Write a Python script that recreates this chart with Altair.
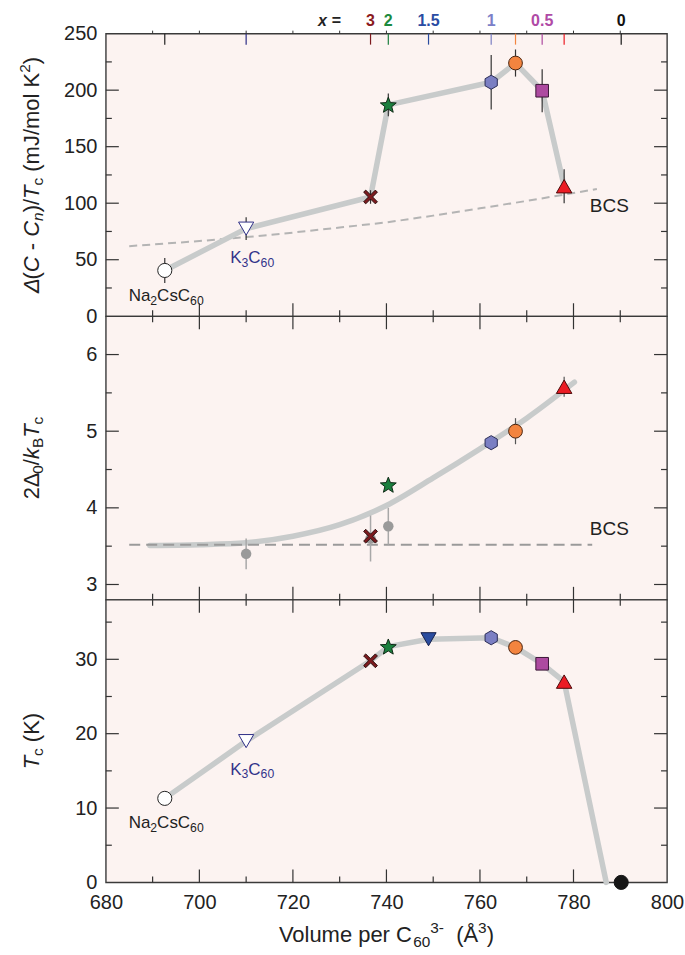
import math
import altair as alt
import pandas as pd

# ---------------- data ----------------
samples = ["Na2CsC60", "K3C60", "x=3", "x=2", "x=1.5", "x=1", "x=0.75", "x=0.5", "x=0.35", "x=0"]
volume = [692.6, 710.0, 736.6, 740.4, 749.0, 762.4, 767.6, 773.3, 778.0, 790.2]

dC_over_Tc = [40.5, 77.5, 105.5, 187.0, None, 207.0, 224.0, 199.5, 115.0, None]
dC_err = [11, 10, 6, 10, None, 24, 12, 19, 15, None]

gap_ratio = [None, None, 3.63, 4.30, None, 4.85, 5.00, None, 5.58, None]
gap_err = [None, None, None, None, None, None, 0.17, None, 0.13, None]

Tc = [11.3, 19.0, 29.8, 31.7, 32.7, 32.9, 31.6, 29.4, 27.0, 0.0]
tc_zero_vol = 787.0

bcs_vol = [685, 700, 710, 720, 730, 740, 750, 760, 770, 780, 785]
bcs_dC = [62, 66.5, 70, 74, 78.5, 83, 89, 95.5, 102, 109, 112.5]

gray_vol = [710.0, 736.6, 740.4]
gray_gap = [3.40, 3.60, 3.76]
gray_gap_err = [0.20, 0.30, 0.24]

fit_vol = [689.4, 700, 710, 720, 730, 740, 750, 760, 770, 780.2]
fit_gap = [3.51, 3.52, 3.545, 3.63, 3.78, 4.03, 4.39, 4.77, 5.17, 5.64]

bcs_gap_vol = [685, 784]
bcs_gap = [3.52, 3.52]

x_labels = ["3", "2", "1.5", "1", "0.5", "0"]
x_label_vol = [736.6, 740.4, 749.0, 762.4, 773.3, 790.2]
x_label_colors = ["#8b1a1e", "#1b8a3e", "#2a4ca3", "#7b7fc8", "#b04aa6", "#111111"]

x_ticks = [680, 700, 720, 740, 760, 780, 800]
y_ticks_top = [0, 50, 100, 150, 200, 250]
y_ticks_mid = [3, 4, 5, 6]
y_ticks_bot = [0, 10, 20, 30]

# ---------------- styles ----------------
FONT = "Liberation Sans"
TXT = "#222222"
NAVY = "#33338a"
W = 562
H_TOP, H_MID, H_BOT = 283, 284, 283
xs = alt.Scale(domain=[680, 800], nice=False, zero=False)
ys_top = alt.Scale(domain=[0, 250], nice=False, zero=False)
ys_mid = alt.Scale(domain=[2.8, 6.5], nice=False, zero=False)
ys_bot = alt.Scale(domain=[0, 38], nice=False, zero=False)


def star_path(n=5, r_out=1.0, r_in=0.43):
    pts = []
    for k in range(2 * n):
        r = r_out if k % 2 == 0 else r_in
        a = -math.pi / 2 + k * math.pi / n
        pts.append((r * math.cos(a), r * math.sin(a) + 0.08))
    return "M" + "L".join(f"{x:.3f},{y:.3f}" for x, y in pts) + "Z"


HEX = "M0,-1L0.866,-0.5L0.866,0.5L0,1L-0.866,0.5L-0.866,-0.5Z"
XSHAPE = ("M-0.7,-1L0,-0.3L0.7,-1L1,-0.7L0.3,0L1,0.7L0.7,1L0,0.3"
          "L-0.7,1L-1,0.7L-0.3,0L-1,-0.7Z")
STAR = star_path()

shape_of = ["circle", "triangle-down", XSHAPE, STAR, "triangle-down", HEX,
            "circle", "square", "triangle-up", "circle"]
fill_of = ["#ffffff", "#ffffff", "#7d1a1e", "#1b7f3e", "#2a4c9f", "#7b7fc3",
           "#f3843f", "#ad4aa0", "#ec1c24", "#161616"]
stroke_of = ["#222222", "#2e2e86", "#2a0e0e", "#0f2a16", "#16204a", "#2a2c55",
             "#4a2410", "#3a1736", "#4a0a0a", "#161616"]
size_of = [200, 230, 190, 280, 230, 200, 190, 160, 240, 200]
tick_col = ["#222222", "#2e2e86", "#7d1a1e", "#1b7f3e", "#2a4c9f", "#7b7fc3",
            "#f3843f", "#ad4aa0", "#ec1c24", "#161616"]

LINE = "#c8cbcb"
dummy = pd.DataFrame({"a": [0]})

# Arial / Liberation Sans advance widths (em)
AW = {'Δ': .612, '(': .333, ')': .333, 'C': .722, ' ': .278, '-': .333,
      'n': .556, '/': .278, 'T': .611, 'c': .5, 'm': .833, 'J': .5, 'o': .556,
      'l': .222, 'K': .667, 'k': .5, 'B': .667, 'N': .722, 'a': .556, 's': .5,
      'V': .667, 'u': .556, 'e': .556, 'p': .556, 'r': .333, 'Å': .667}


def pw(t, fs):
    return sum(AW.get(ch, .556) for ch in t) * fs


def lead_ws(t, fs):
    """width of leading spaces (they are dropped when rendering) and stripped text"""
    n = len(t) - len(t.lstrip(" "))
    return n * 0.278 * fs, t.strip(" ")


def axis_y(vals):
    return alt.Axis(values=vals, title=None, ticks=False, domain=False, grid=False,
                    labelFontSize=20, labelFont=FONT, labelColor=TXT, labelPadding=9,
                    labelFlush=False)


AX_BOT = alt.Axis(values=x_ticks, ticks=False, domain=False, grid=False,
                  labelFontSize=20, labelFont=FONT, labelColor=TXT,
                  labelPadding=10, labelFlush=False, title=None)


class Panel:
    def __init__(self, ys, H, xax, yax):
        self.ys, self.H, self.xax, self.yax = ys, H, xax, yax
        self.layers = []

    def X(self, f):
        return alt.X(f, type="quantitative", scale=xs, axis=self.xax)

    def Y(self, f):
        return alt.Y(f, type="quantitative", scale=self.ys, axis=self.yax)

    def add(self, c):
        self.layers.append(c)

    def frame_ticks(self, ymaj, ymin, top_ticks=True):
        H = self.H
        xmaj = [700, 720, 740, 760, 780]
        xmin = [690, 710, 730, 750, 770, 790]
        for vals, ln in ((xmaj, 13), (xmin, 6)):
            d = pd.DataFrame({"v": vals})
            self.add(alt.Chart(d).mark_rule(color="#333", strokeWidth=1.2).encode(
                x=self.X("v"), y=alt.value(H - ln), y2=alt.value(H)))
            if top_ticks:
                self.add(alt.Chart(d).mark_rule(color="#333", strokeWidth=1.2).encode(
                    x=self.X("v"), y=alt.value(0), y2=alt.value(ln)))
        for vals, ln in ((ymaj, 13), (ymin, 6)):
            d = pd.DataFrame({"v": vals})
            self.add(alt.Chart(d).mark_rule(color="#333", strokeWidth=1.2).encode(
                y=self.Y("v"), x=alt.value(0), x2=alt.value(ln)))
            self.add(alt.Chart(d).mark_rule(color="#333", strokeWidth=1.2).encode(
                y=self.Y("v"), x=alt.value(W - ln), x2=alt.value(W)))

    def line(self, vols, vals, **kw):
        d = pd.DataFrame({"vol": vols, "val": vals})
        self.add(alt.Chart(d).mark_line(**kw).encode(x=self.X("vol"), y=self.Y("val")))

    def points(self, df):
        self.add(alt.Chart(df).mark_point(opacity=1, fillOpacity=1, strokeWidth=1).encode(
            x=self.X("vol"), y=self.Y("val"),
            shape=alt.Shape("shape:N", scale=None),
            fill=alt.Fill("fill:N", scale=None),
            stroke=alt.Stroke("stroke:N", scale=None),
            size=alt.Size("size:Q", scale=None)))

    def errbars(self, df, color="#333333", width=1.2):
        d = df[df["has_err"]]
        self.add(alt.Chart(d).mark_rule(color=color, strokeWidth=width).encode(
            x=self.X("vol"), y=self.Y("lo"), y2="hi:Q"))

    def rich_label(self, pieces, vol, val, size=17, color=TXT, align="center"):
        d = pd.DataFrame({"vol": [vol], "val": [val]})
        widths = [pw(t, size * (0.72 if m != "n" else 1)) for t, m in pieces]
        total = sum(widths)
        off = -total / 2 if align == "center" else 0
        for (t, m), w in zip(pieces, widths):
            fs = size * 0.72 if m != "n" else size
            dy = 0.22 * size if m == "sub" else 0
            self.add(alt.Chart(d).mark_text(
                text=t, font=FONT, fontSize=fs, color=color, align="left",
                baseline="alphabetic", dx=off, dy=dy).encode(
                x=self.X("vol"), y=self.Y("val")))
            off += w

    def rotated_title(self, pieces, base_x, center_y, size=22):
        def fsz(m):
            return size * 0.7 if m != "n" else size
        total = sum(pw(t, fsz(m)) for t, _, m in pieces)
        y = center_y + total / 2
        for t, it, m in pieces:
            fs = fsz(m)
            shift = {"n": 0, "sub": 0.2 * size, "sup": -0.42 * size}[m]
            lead, core = lead_ws(t, fs)
            self.add(alt.Chart(dummy).mark_text(
                text=core, angle=270, align="left", baseline="alphabetic", fontSize=fs,
                font=FONT, fontStyle="italic" if it else "normal", color=TXT).encode(
                x=alt.value(base_x + shift), y=alt.value(y - lead)))
            y -= pw(t, fs)

    def chart(self):
        return alt.layer(*self.layers).properties(width=W, height=self.H)


def marker_df(values, errs=None):
    rows = []
    for i, v in enumerate(values):
        if v is None:
            continue
        e = errs[i] if errs is not None else None
        rows.append(dict(vol=volume[i], val=v,
                         lo=v - e if e is not None else v,
                         hi=v + e if e is not None else v,
                         has_err=e is not None,
                         shape=shape_of[i], fill=fill_of[i],
                         stroke=stroke_of[i], size=size_of[i]))
    return pd.DataFrame(rows)


TITLE_X = -67
NA_LBL = [("Na", "n"), ("2", "sub"), ("CsC", "n"), ("60", "sub")]
K_LBL = [("K", "n"), ("3", "sub"), ("C", "n"), ("60", "sub")]

# ---------------- top panel ----------------
P = Panel(ys_top, H_TOP, None, axis_y(y_ticks_top))
df_top = marker_df(dC_over_Tc, dC_err)
P.frame_ticks([50, 100, 150, 200], [25, 75, 125, 175, 225], top_ticks=False)
d_ct = pd.DataFrame({"vol": volume, "c": tick_col})
P.add(alt.Chart(d_ct).mark_rule(strokeWidth=1.2).encode(
    x=P.X("vol"), y=alt.value(0), y2=alt.value(11), color=alt.Color("c:N", scale=None)))
d_small = pd.DataFrame({"v": [690, 700, 710, 720, 730, 740, 750, 760, 770, 780, 790]})
P.add(alt.Chart(d_small).mark_rule(color="#333", strokeWidth=1).encode(
    x=P.X("v"), y=alt.value(-3), y2=alt.value(0)))
P.line(bcs_vol, bcs_dC, color="#b4b4b4", strokeWidth=2, strokeDash=[8, 5])
P.line(list(df_top["vol"]), list(df_top["val"]), color=LINE, strokeWidth=5.5,
       strokeCap="round", strokeJoin="round")
P.errbars(df_top)
P.points(df_top)
d_bcs = pd.DataFrame({"vol": [783.5], "val": [92]})
P.add(alt.Chart(d_bcs).mark_text(text="BCS", font=FONT, fontSize=19, color=TXT,
                                 align="left", baseline="alphabetic").encode(
    x=P.X("vol"), y=P.Y("val")))
P.rich_label(NA_LBL, 692.9, 13.5)
P.rich_label(K_LBL, 711.3, 46.8, color=NAVY)
P.add(alt.Chart(dummy).mark_text(
    text="x", font=FONT, fontSize=16, fontWeight="bold", fontStyle="italic",
    color=TXT, align="center", baseline="alphabetic").encode(
    x=alt.value(217), y=alt.value(-8)))
P.add(alt.Chart(dummy).mark_text(
    text="=", font=FONT, fontSize=16, fontWeight="bold",
    color=TXT, align="center", baseline="alphabetic").encode(
    x=alt.value(231), y=alt.value(-8)))
P.add(alt.Chart(pd.DataFrame({"vol": x_label_vol, "t": x_labels, "c": x_label_colors}))
      .mark_text(font=FONT, fontSize=16, fontWeight="bold", align="center",
                 baseline="alphabetic").encode(
    x=P.X("vol"), y=alt.value(-8), text="t:N", color=alt.Color("c:N", scale=None)))
P.rotated_title(
    [("Δ", True, "n"), ("(", False, "n"), ("C", True, "n"), (" -", False, "n"),
     (" C", True, "n"), ("n", True, "sub"), (")/", False, "n"), ("T", True, "n"),
     ("c", False, "sub"), (" (mJ/mol K", False, "n"), ("2", False, "sup"),
     (")", False, "n")],
    TITLE_X, H_TOP / 2)
top = P.chart()

# ---------------- middle panel ----------------
P = Panel(ys_mid, H_MID, None, axis_y(y_ticks_mid))
df_mid = marker_df(gap_ratio, gap_err)
df_gray = pd.DataFrame({"vol": gray_vol, "val": gray_gap,
                        "lo": [v - e for v, e in zip(gray_gap, gray_gap_err)],
                        "hi": [v + e for v, e in zip(gray_gap, gray_gap_err)]})
P.frame_ticks([3, 4, 5, 6], [3.5, 4.5, 5.5])
P.line(fit_vol, fit_gap, color=LINE, strokeWidth=5.5, strokeCap="round",
       interpolate="monotone")
P.line(bcs_gap_vol, bcs_gap, color="#9a9a9a", strokeWidth=2, strokeDash=[11, 6])
P.add(alt.Chart(df_gray).mark_rule(color="#a8a8a8", strokeWidth=1.5).encode(
    x=P.X("vol"), y=P.Y("lo"), y2="hi:Q"))
P.add(alt.Chart(df_gray).mark_point(
    filled=True, color="#9a9a9a", opacity=1, size=110, shape="circle").encode(
    x=P.X("vol"), y=P.Y("val")))
P.errbars(df_mid, color="#555555")
P.points(df_mid)
d_bcs2 = pd.DataFrame({"vol": [783.5], "val": [3.643]})
P.add(alt.Chart(d_bcs2).mark_text(text="BCS", font=FONT, fontSize=19, color=TXT,
                                  align="left", baseline="alphabetic").encode(
    x=P.X("vol"), y=P.Y("val")))
P.rotated_title(
    [("2Δ", False, "n"), ("0", False, "sub"), ("/", False, "n"), ("k", True, "n"),
     ("B", False, "sub"), ("T", True, "n"), ("c", False, "sub")],
    TITLE_X, H_MID / 2)
mid = P.chart()

# ---------------- bottom panel ----------------
P = Panel(ys_bot, H_BOT, AX_BOT, axis_y(y_ticks_bot))
df_bot = marker_df(Tc)
P.frame_ticks([10, 20, 30], [5, 15, 25, 35])
P.line(volume[:9] + [tc_zero_vol], Tc[:9] + [0.0], color=LINE, strokeWidth=5.5,
       strokeCap="round", strokeJoin="round")
P.points(df_bot)
P.rich_label(NA_LBL, 692.9, 7.3)
P.rich_label(K_LBL, 711.3, 14.5, color=NAVY)
P.rotated_title([("T", True, "n"), ("c", False, "sub"), (" (K)", False, "n")],
                TITLE_X, H_BOT / 2)
# x-axis title built from pieces (sub/superscripts)
XT = 22
xt_pieces = [("Volume per C", "n"), ("60", "sub"), ("3-", "sup"),
             ("  (Å", "n"), ("3", "sup"), (")", "n")]
tot = sum(pw(t, XT * (0.7 if m != "n" else 1)) for t, m in xt_pieces)
cur = W / 2 - tot / 2
for t, m in xt_pieces:
    fs = XT * 0.7 if m != "n" else XT
    dy = {"n": 0, "sub": 0.2 * XT, "sup": -0.42 * XT}[m]
    lead, core = lead_ws(t, fs)
    P.add(alt.Chart(dummy).mark_text(text=core, font=FONT, fontSize=fs, color=TXT,
                                     align="left", baseline="alphabetic").encode(
        x=alt.value(cur + lead), y=alt.value(H_BOT + 60 + dy)))
    cur += pw(t, fs)
bot = P.chart()

chart = alt.vconcat(top, mid, bot, spacing=0, bounds="flush").configure_view(
    fill="#fcf3f1", stroke="#3a3a3a", strokeWidth=1.4
).properties(
    padding={"left": 17, "top": 11, "right": 0, "bottom": 0},
    background="#ffffff",
)

chart.save("out.html", embed_options={"renderer": "svg", "actions": False})
